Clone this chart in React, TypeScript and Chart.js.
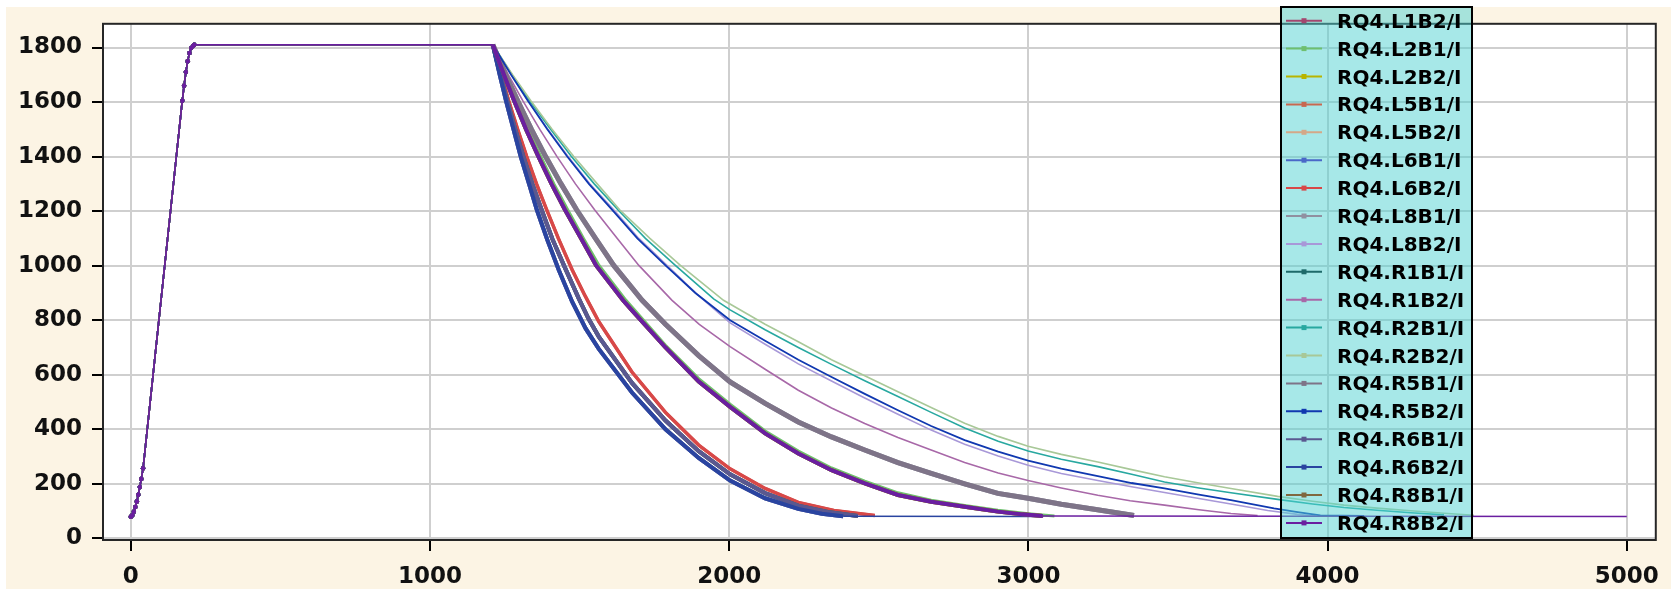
import React, { useEffect, useRef } from "react";
import { Chart, registerables } from "chart.js";
Chart.register(...registerables);

const seriesNames = [
  "RQ4.L1B2/I", "RQ4.L2B1/I", "RQ4.L2B2/I", "RQ4.L5B1/I", "RQ4.L5B2/I",
  "RQ4.L6B1/I", "RQ4.L6B2/I", "RQ4.L8B1/I", "RQ4.L8B2/I", "RQ4.R1B1/I",
  "RQ4.R1B2/I", "RQ4.R2B1/I", "RQ4.R2B2/I", "RQ4.R5B1/I", "RQ4.R5B2/I",
  "RQ4.R6B1/I", "RQ4.R6B2/I", "RQ4.R8B1/I", "RQ4.R8B2/I",
];
const seriesColors = [
  "#A3476F", "#6FBF6F", "#B8B400", "#C86850", "#D4A888",
  "#4A68C8", "#D84848", "#9090A0", "#A898D8", "#1E6A6A",
  "#A868A8", "#28A8A0", "#A8C898", "#7E7488", "#1038B0",
  "#5A5890", "#2A44A0", "#806840", "#6A1EA0",
];
const seriesWidths = [4, 3, 4, 3, 4, 4, 3.5, 5, 1.6, 4, 1.6, 1.6, 1.6, 5, 1.8, 4, 4, 4, 4];

const xTicks = [0, 1000, 2000, 3000, 4000, 5000];
const yTicks = [0, 200, 400, 600, 800, 1000, 1200, 1400, 1600, 1800];

type P = [number, number];

// common ramp-up and flat top
const ramp: P[] = [
  [0, 79], [5, 85], [10, 98], [15, 115], [20, 135], [25, 160], [30, 188], [35, 218], [41, 257],
  [172, 1605], [178, 1660], [184, 1710], [190, 1750], [196, 1780], [202, 1798], [208, 1806], [212, 1810],
];

const decayA1: P[] = [[1210,1810],[1233,1700],[1254,1605],[1279,1500],[1303,1401],[1331,1300],[1357,1205],[1392,1095],[1430,985],[1475,868],[1520,770],[1564,695],[1675,535],[1787,400],[1898,295],[2003,212],[2120,147],[2231,108],[2310,90],[2381,81]];
const decayA2: P[] = [[1210,1810],[1235,1700],[1258,1605],[1285,1500],[1312,1401],[1342,1300],[1373,1205],[1409,1098],[1452,990],[1497,880],[1530,805],[1564,740],[1675,570],[1787,432],[1898,320],[2003,235],[2120,166],[2231,120],[2330,97],[2430,82]];
const decayA3: P[] = [[1210,1810],[1238,1700],[1263,1605],[1293,1500],[1323,1401],[1356,1300],[1390,1205],[1429,1100],[1475,985],[1518,890],[1564,795],[1675,610],[1787,462],[1898,342],[2003,255],[2120,183],[2231,132],[2350,102],[2487,84]];
const decayB1: P[] = [[1210,1810],[1247,1700],[1281,1605],[1321,1500],[1362,1401],[1406,1300],[1451,1205],[1505,1100],[1555,1001],[1645,873],[1675,836],[1787,700],[1898,575],[2003,482],[2120,385],[2231,311],[2342,250],[2453,202],[2564,159],[2675,134],[2787,116],[2898,98],[2980,88],[3048,82]];
const decayB2: P[] = [[1210,1810],[1251,1700],[1287,1605],[1329,1500],[1370,1401],[1414,1300],[1460,1205],[1513,1100],[1565,1001],[1655,873],[1787,708],[1898,586],[2003,492],[2120,394],[2231,320],[2342,258],[2453,210],[2564,167],[2675,140],[2787,121],[2898,103],[3000,90],[3087,82]];
const decayC: P[] = [[1210,1810],[1253,1700],[1293,1605],[1339,1500],[1386,1401],[1438,1300],[1490,1205],[1553,1100],[1614,1001],[1709,873],[1787,785],[1898,670],[2003,574],[2120,495],[2231,427],[2342,372],[2453,324],[2564,278],[2675,238],[2787,200],[2898,165],[2999,147],[3110,125],[3231,105],[3353,84]];
const decayD: P[] = [[1210,1810],[1262,1700],[1310,1605],[1367,1500],[1424,1401],[1486,1300],[1550,1205],[1626,1100],[1698,1001],[1809,873],[1900,785],[2003,703],[2120,620],[2231,543],[2342,478],[2453,421],[2564,370],[2675,324],[2787,278],[2899,240],[2999,212],[3110,185],[3232,158],[3340,138],[3455,122],[3570,105],[3677,91],[3766,84]];
const decayE1: P[] = [[1210,1810],[1271,1700],[1327,1605],[1392,1500],[1458,1401],[1531,1300],[1609,1205],[1693,1100],[1787,1001],[1887,900],[2003,800],[2120,725],[2231,655],[2342,592],[2453,530],[2564,470],[2675,412],[2787,360],[2899,318],[2999,285],[3110,256],[3232,228],[3345,203],[3455,183],[3570,160],[3677,140],[3821,110],[3900,96],[3976,84],[4122,82]];
const decayE2: P[] = [[1210,1810],[1272,1700],[1328,1605],[1394,1500],[1461,1401],[1534,1300],[1614,1205],[1698,1100],[1792,1001],[1893,895],[2003,790],[2120,712],[2231,640],[2342,577],[2453,515],[2564,455],[2675,397],[2787,345],[2899,302],[2999,268],[3110,238],[3232,212],[3345,189],[3455,168],[3570,146],[3677,126],[3800,102],[3900,88],[3960,82]];
const decayF1: P[] = [[1210,1810],[1274,1700],[1333,1605],[1403,1500],[1472,1401],[1549,1300],[1628,1205],[1720,1100],[1820,1001],[1948,878],[2003,838],[2120,765],[2231,700],[2342,638],[2453,578],[2564,520],[2675,462],[2787,405],[2899,356],[2999,320],[3110,290],[3232,263],[3345,235],[3455,207],[3570,185],[3677,167],[3833,143],[3950,126],[4055,113],[4165,103],[4278,94],[4389,86]];
const decayF2: P[] = [[1210,1810],[1276,1700],[1337,1605],[1408,1500],[1480,1401],[1559,1300],[1634,1205],[1735,1100],[1837,1001],[1981,873],[2120,785],[2231,721],[2342,655],[2453,596],[2564,538],[2675,480],[2787,422],[2899,374],[2999,338],[3110,308],[3232,280],[3345,252],[3455,226],[3570,203],[3677,183],[3833,154],[3950,136],[4055,122],[4165,111],[4278,101],[4389,92],[4489,85]];
const tailR6B2: P[] = [[3050, 80]];
const tailR8B2: P[] = [[5000, 80]];

const seriesData: P[][] = [
  [...ramp, ...decayA2],
  [...ramp, ...decayB2],
  [...ramp, ...decayB1],
  [...ramp, ...decayA3],
  [...ramp, ...decayA1],
  [...ramp, ...decayA1],
  [...ramp, ...decayA3],
  [...ramp, ...decayC],
  [...ramp, ...decayE2],
  [...ramp, ...decayA2],
  [...ramp, ...decayD],
  [...ramp, ...decayF1],
  [...ramp, ...decayF2],
  [...ramp, ...decayC],
  [...ramp, ...decayE1],
  [...ramp, ...decayA2],
  [...ramp, ...decayA1, ...tailR6B2],
  [...ramp, ...decayB1],
  [...ramp, ...decayB1, ...tailR8B2],
];

const decorPlugin = {
  id: "decor",
  beforeDraw(chart: any) {
    const { ctx, width, height, chartArea: a } = chart;
    ctx.save();
    ctx.fillStyle = "#ffffff";
    ctx.fillRect(0, 0, width, height);
    ctx.fillStyle = "#FCF4E4";
    ctx.fillRect(6, 7, width - 6, 582);
    ctx.fillStyle = "#ffffff";
    ctx.fillRect(a.left, a.top, a.right - a.left, a.bottom - a.top);
    ctx.restore();
  },
  afterDatasetsDraw(chart: any) {
    const { ctx, chartArea: a } = chart;
    ctx.save();
    ctx.strokeStyle = "#262626";
    ctx.lineWidth = 2;
    ctx.strokeRect(a.left, a.top, a.right - a.left, a.bottom - a.top);
    const lx = 1281, ly = 7, lw = 191, lh = 531;
    ctx.fillStyle = "rgba(80,210,210,0.5)";
    ctx.fillRect(lx, ly, lw, lh);
    ctx.strokeStyle = "#000";
    ctx.lineWidth = 2;
    ctx.strokeRect(lx, ly, lw, lh);
    ctx.font = 'bold 20px "DejaVu Sans"';
    ctx.textBaseline = "alphabetic";
    ctx.textAlign = "left";
    chart.data.datasets.forEach((ds: any, i: number) => {
      const cy = 20.7 + i * 27.9;
      ctx.strokeStyle = ds.borderColor;
      ctx.lineWidth = 2;
      ctx.beginPath();
      ctx.moveTo(1286, cy);
      ctx.lineTo(1322, cy);
      ctx.stroke();
      ctx.fillStyle = ds.borderColor;
      ctx.fillRect(1301.5, cy - 2.5, 5, 5);
      ctx.fillStyle = "#000";
      ctx.fillText(ds.label, 1337, cy + 7);
    });
    ctx.restore();
  },
};

export default function App() {
  const ref = useRef<HTMLCanvasElement>(null);
  useEffect(() => {
    document.body.style.margin = "0";
    document.body.style.overflow = "hidden";
    const n = seriesNames.length;
    const datasets = seriesNames.map((name, i) => {
      const w = seriesWidths[i];
      return {
        label: name,
        data: seriesData[i].map(([x, y]) => ({ x, y })),
        borderColor: seriesColors[i],
        backgroundColor: seriesColors[i],
        showLine: true,
        fill: false,
        order: n - 1 - i,
        borderWidth: 1.6,
        tension: 0,
        pointRadius: (c: any) => {
          const x = c.raw ? c.raw.x : 0;
          return x < 42 || (x > 171 && x < 213) ? 2.2 : 0;
        },
        pointBorderWidth: 0,
        segment: {
          borderWidth: (c: any) =>
            c.p0.parsed.x >= 1209 && c.p1.parsed.x - c.p0.parsed.x < 500 ? w : 1.6,
        },
      };
    });
    const font = { family: "DejaVu Sans", weight: "bold" as const, size: 23 };
    const fmt = (v: any) => String(v);
    const chart = new Chart(ref.current!, {
      type: "scatter",
      data: { datasets },
      plugins: [decorPlugin],
      options: {
        animation: false,
        responsive: false,
        devicePixelRatio: 1,
        layout: { padding: { top: 23, right: 12, left: 0, bottom: 0 } },
        plugins: { legend: { display: false }, tooltip: { enabled: false } },
        scales: {
          x: {
            type: "linear",
            min: -93,
            max: 5097,
            afterBuildTicks: (s: any) => { s.ticks = xTicks.map((v) => ({ value: v })); },
            afterFit: (s: any) => { s.height = 50; },
            border: { display: false },
            grid: { color: "#CFCFCF", lineWidth: 2, tickColor: "#000", tickLength: 11, tickWidth: 2 },
            ticks: { font, color: "#111", padding: 12, maxRotation: 0, callback: fmt },
          },
          y: {
            type: "linear",
            min: -6,
            max: 1887,
            afterBuildTicks: (s: any) => { s.ticks = yTicks.map((v) => ({ value: v })); },
            afterFit: (s: any) => { s.width = 103; },
            border: { display: false },
            grid: { color: "#CFCFCF", lineWidth: 2, tickColor: "#000", tickLength: 11, tickWidth: 2 },
            ticks: { font, color: "#111", padding: 10, callback: fmt },
          },
        },
      },
    });
    return () => chart.destroy();
  }, []);
  return <canvas ref={ref} width={1671} height={590} style={{ display: "block" }} />;
}
